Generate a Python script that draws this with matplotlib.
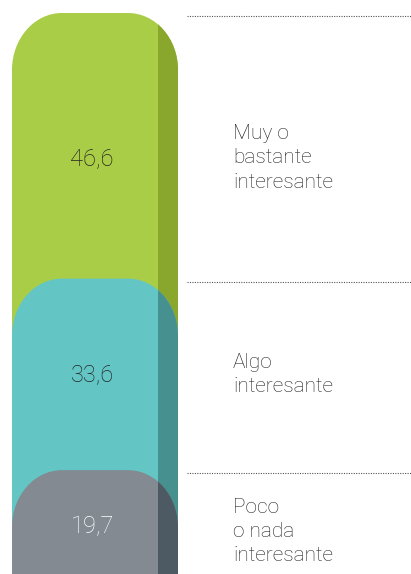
import matplotlib
matplotlib.use("Agg")
import matplotlib.pyplot as plt
from matplotlib.path import Path
from matplotlib.patches import PathPatch, Rectangle

# values (top to bottom of the stacked bar)
categories = ["Muy o\nbastante\ninteresante", "Algo\ninteresante", "Poco\no nada\ninteresante"]
values = [46.6, 33.6, 19.7]
value_labels = ["46,6", "33,6", "19,7"]

face_colors = ["#a9cd47", "#63c6c4", "#838a92"]
side_colors = ["#89a72d", "#469190", "#4e5a63"]
value_colors = ["#222222", "#222222", "#ffffff"]

plt.rcParams["font.family"] = ["Roboto", "DejaVu Sans"]

W, H = 411, 574
fig = plt.figure(figsize=(W / 100, H / 100), dpi=100)
ax = fig.add_axes([0, 0, 1, 1])
ax.set_xlim(0, W)
ax.set_ylim(H, 0)
ax.axis("off")

x0, x1 = 12, 178       # bar left/right
side_x = 158           # start of the darker side strip
top = 13               # top of the bar
scale = 5.7            # px per percentage point
rx, ry = 50, 57        # corner radii
bottom = top + sum(values) * scale + 20
k = 0.5523


def rounded_top(xa, xb, ya, yb):
    verts = [
        (xa, yb), (xa, ya + ry),
        (xa, ya + ry - k * ry), (xa + rx - k * rx, ya), (xa + rx, ya),
        (xb - rx, ya),
        (xb - rx + k * rx, ya), (xb, ya + ry - k * ry), (xb, ya + ry),
        (xb, yb), (xa, yb),
    ]
    codes = [Path.MOVETO, Path.LINETO,
             Path.CURVE4, Path.CURVE4, Path.CURVE4,
             Path.LINETO,
             Path.CURVE4, Path.CURVE4, Path.CURVE4,
             Path.LINETO, Path.CLOSEPOLY]
    return Path(verts, codes)


value_shift = [13, 0, 0]
cat_shift = [12, 0, 5]
y = top
for i, v in enumerate(values):
    seg_top = y
    seg_bot = y + v * scale
    path = rounded_top(x0, x1, seg_top, bottom)
    patch = PathPatch(path, facecolor=face_colors[i], edgecolor="none", zorder=2 + i)
    ax.add_patch(patch)
    side = Rectangle((side_x, seg_top), x1 - side_x, bottom - seg_top,
                     facecolor=side_colors[i], edgecolor="none", zorder=2 + i)
    ax.add_patch(side)
    side.set_clip_path(patch)

    cy = (seg_top + seg_bot) / 2
    ax.text(92, cy + value_shift[i], value_labels[i], ha="center", va="center",
            fontsize=17, color=value_colors[i], fontweight="light", zorder=10)
    ax.text(233, cy + cat_shift[i], categories[i], ha="left", va="center", fontsize=15,
            color="#222222", fontweight="light", linespacing=1.35, zorder=10)
    ax.plot([187, W], [seg_top + 3, seg_top + 3], color="#555555", lw=0.8,
            linestyle=(0, (1, 1.2)), zorder=1)
    y = seg_bot

fig.savefig("out.png", dpi=100)
